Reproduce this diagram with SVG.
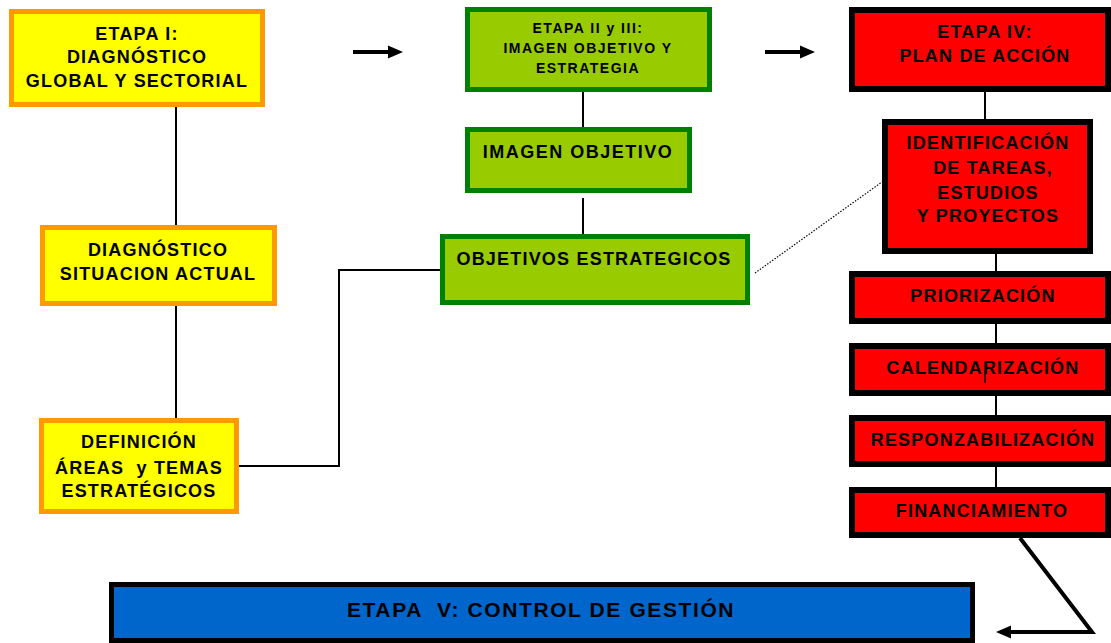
<svg xmlns="http://www.w3.org/2000/svg" width="1111" height="643" viewBox="0 0 1111 643">
<style>
.t{font-family:"Liberation Sans",Arial,sans-serif;font-weight:bold;fill:#000;text-anchor:middle;font-size:18px;letter-spacing:1.2px}
.s{font-size:14px;letter-spacing:1.5px}
.yel{fill:#FFFF00;stroke:#FF9900;stroke-width:5}
.grn{fill:#99CC00;stroke:#008000;stroke-width:5}
.red{fill:#FF0000;stroke:#000;stroke-width:6}
.blu{fill:#0066CC;stroke:#000;stroke-width:5}
.c{stroke:#000;stroke-width:2;fill:none}
.thick{stroke:#000;stroke-width:4;fill:none}
</style>
<rect width="1111" height="643" fill="#fff"/>
<g id="connectors">
<line class="c" x1="176" y1="107" x2="176" y2="225"/>
<line class="c" x1="176" y1="306" x2="176" y2="418"/>
<polyline class="c" points="239,466 339,466 339,270 440,270"/>
<line class="c" x1="583" y1="92" x2="583" y2="142"/>
<line class="c" x1="583" y1="198" x2="583" y2="236"/>
<line x1="755" y1="273" x2="882" y2="182" stroke="#000" stroke-width="1.2" stroke-dasharray="1.5,1.5"/>
<line class="c" x1="985" y1="92" x2="985" y2="119"/>
<line class="c" x1="996" y1="248" x2="996" y2="271"/>
<line class="c" x1="996" y1="324" x2="996" y2="343"/>
<line class="c" x1="996" y1="396" x2="996" y2="415"/>
<line class="c" x1="996" y1="467" x2="996" y2="487"/>
<line class="thick" x1="353" y1="52" x2="390" y2="52"/>
<polygon points="388,45.5 403,52 388,58.5" fill="#000"/>
<line class="thick" x1="765" y1="52" x2="802" y2="52"/>
<polygon points="800,45.5 815,52 800,58.5" fill="#000"/>
<polyline class="thick" points="1020,538 1092,632 1008,632"/>
<polygon points="1011,625.5 996,632 1011,638.5" fill="#000"/>
</g>
<g id="etapa1">
<rect class="yel" x="11.5" y="11.5" width="251" height="93"/>
<text class="t" x="137" y="40">ETAPA I:</text>
<text class="t" x="137" y="63">DIAGNÓSTICO</text>
<text class="t" x="137" y="87">GLOBAL Y SECTORIAL</text>
</g>
<g id="diagnostico">
<rect class="yel" x="42.5" y="227.5" width="232" height="76"/>
<text class="t" x="158" y="256">DIAGNÓSTICO</text>
<text class="t" x="158" y="280">SITUACION ACTUAL</text>
</g>
<g id="definicion">
<rect class="yel" x="41.5" y="420.5" width="195" height="91"/>
<text class="t" x="139" y="448">DEFINICIÓN</text>
<text class="t" x="139" y="474" style="white-space:pre">ÁREAS  y TEMAS</text>
<text class="t" x="139" y="497">ESTRATÉGICOS</text>
</g>
<g id="etapa23">
<rect class="grn" x="467.5" y="9.5" width="242" height="80"/>
<text class="t s" x="588" y="33">ETAPA II y III:</text>
<text class="t s" x="588" y="53">IMAGEN OBJETIVO Y</text>
<text class="t s" x="588" y="73">ESTRATEGIA</text>
</g>
<g id="imagen">
<rect class="grn" x="467.5" y="129.5" width="222" height="61"/>
<text class="t" x="578" y="158" style="letter-spacing:1.5px">IMAGEN OBJETIVO</text>
</g>
<g id="objetivos">
<rect class="grn" x="442.5" y="236.5" width="305" height="66"/>
<text class="t" x="594" y="265">OBJETIVOS ESTRATEGICOS</text>
</g>
<g id="etapa4">
<rect class="red" x="852" y="10" width="256" height="79"/>
<text class="t" x="985" y="38">ETAPA IV:</text>
<text class="t" x="985" y="62">PLAN DE ACCIÓN</text>
</g>
<g id="identificacion">
<rect class="red" x="885" y="122" width="205" height="129"/>
<text class="t" x="988" y="149">IDENTIFICACIÓN</text>
<text class="t" x="993" y="174">DE TAREAS,</text>
<text class="t" x="988" y="199">ESTUDIOS</text>
<text class="t" x="988" y="222">Y PROYECTOS</text>
</g>
<g id="priorizacion">
<rect class="red" x="852" y="274" width="256" height="47"/>
<text class="t" x="983" y="302">PRIORIZACIÓN</text>
</g>
<g id="calendarizacion">
<rect class="red" x="852" y="346" width="256" height="47"/>
<text class="t" x="983" y="374">CALENDARIZACIÓN</text>
<line x1="985" y1="370" x2="985" y2="383" stroke="#000" stroke-width="1.5"/>
</g>
<g id="responzabilizacion">
<rect class="red" x="852" y="418" width="256" height="46"/>
<text class="t" x="983" y="446">RESPONZABILIZACIÓN</text>
</g>
<g id="financiamiento">
<rect class="red" x="852" y="490" width="256" height="45"/>
<text class="t" x="982" y="517">FINANCIAMIENTO</text>
</g>
<g id="etapa5">
<rect class="blu" x="111.5" y="584.5" width="861" height="56"/>
<text class="t" x="541" y="617" style="font-size:21px;letter-spacing:1.6px;white-space:pre">ETAPA  V: CONTROL DE GESTIÓN</text>
</g>
</svg>
